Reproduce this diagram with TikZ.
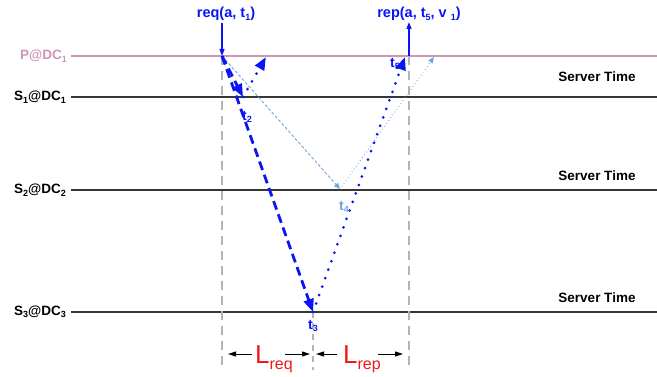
\documentclass[tikz,border=0pt]{standalone}
\usepackage{fontspec}
\setmainfont{Liberation Sans}
\usetikzlibrary{arrows.meta}
\definecolor{pinkc}{RGB}{204,150,180}
\definecolor{bluec}{RGB}{10,20,245}
\definecolor{lblue}{RGB}{110,165,220}
\definecolor{grayc}{RGB}{180,180,180}
\definecolor{linec}{RGB}{55,55,55}
\definecolor{redc}{RGB}{240,25,25}
\newcommand{\sbs}[1]{\raisebox{-0.35ex}{\fontsize{9}{9}\selectfont #1}}
\newcommand{\Lsub}[1]{\raisebox{-6pt}{\fontsize{16}{16}\selectfont #1}}
\begin{document}
\begin{tikzpicture}[x=1pt,y=-1pt,
  lbl/.style={font=\fontsize{13.5}{14}\selectfont\bfseries, inner sep=0pt},
  evl/.style={font=\fontsize{14}{14}\selectfont\bfseries, inner sep=0pt, text=bluec},
  timeline/.style={draw=linec, line width=1.4pt},
  guide/.style={draw=grayc, line width=2.6pt, dash pattern=on 9pt off 6pt},
  reqmsg/.style={draw=bluec, line width=2.8pt, dash pattern=on 9pt off 5pt, -{Triangle[length=13pt,width=10pt]}},
  repmsg/.style={draw=bluec, line width=3pt, line cap=round, dash pattern=on 0pt off 9pt, -{Triangle[length=13pt,width=10pt]}},
  lreq/.style={draw=lblue, line width=0.9pt, dash pattern=on 3pt off 2pt, -{Triangle[length=6pt,width=5pt]}},
  lrep/.style={draw=lblue, line width=1.2pt, line cap=round, dash pattern=on 0pt off 3.5pt, -{Triangle[length=6pt,width=5pt]}},
  thin/.style={draw=bluec, line width=1.2pt, -{Triangle[length=7pt,width=5pt]}},
  meas/.style={draw=black, line width=1pt, -{Triangle[length=8pt,width=5pt]}},
  Lbl/.style={text=redc, inner sep=0pt, font=\fontsize{26}{26}\selectfont}
]
\useasboundingbox (0,0) rectangle (657,377);

% timelines
\draw[draw=pinkc, line width=1.6pt] (71,56) -- (657,56);
\draw[timeline] (71,97) -- (657,97);
\draw[timeline] (71,190) -- (657,190);
\draw[timeline] (71,312) -- (657,312);

\node[lbl, text=pinkc, anchor=east] (p) at (67,56) {P@DC\sbs{1}};
\node[lbl, anchor=east] (s1) at (66,97) {S\sbs{1}@DC\sbs{1}};
\node[lbl, anchor=east] (s2) at (66,190) {S\sbs{2}@DC\sbs{2}};
\node[lbl, anchor=east] (s3) at (66,312) {S\sbs{3}@DC\sbs{3}};

\node[lbl] (st1) at (597,77) {Server Time};
\node[lbl] (st2) at (597,176) {Server Time};
\node[lbl] (st3) at (597,298) {Server Time};

% event points
\coordinate (e1) at (222,56);
\coordinate (e2) at (243,97);
\coordinate (e2b) at (266,57);
\coordinate (e4) at (340,189);
\coordinate (e4b) at (434,57);
\coordinate (e3) at (313,312);
\coordinate (e5) at (405,57);
\coordinate (r5) at (409,56);

% guides
\coordinate (g1b) at (222,366);
\coordinate (g2b) at (409,366);
\coordinate (g3b) at (313,370);
\draw[guide] (e1) -- (g1b);
\draw[guide] (r5) -- (g2b);
\draw[draw=grayc, line width=2.4pt, dash pattern=on 6pt off 5pt] (e3) -- (g3b);

% light blue path
\draw[lreq] (e1) -- (e4);
\draw[lrep] (e4) -- (e4b);

% blue messages
\draw[reqmsg] (e1) -- (e2);
\draw[repmsg] (e2) -- (e2b);
\draw[reqmsg] (e1) -- (e3);
\draw[repmsg] (e3) -- (e5);

% req / rep
\node[lbl, text=bluec, font=\fontsize{14.5}{15}\selectfont\bfseries] (req) at (226,14) {req(a, t\sbs{1})};
\node[lbl, text=bluec, font=\fontsize{14.5}{15}\selectfont\bfseries] (rep) at (419,14) {rep(a, t\sbs{5}, v \sbs{1})};
\coordinate (reqs) at (222,23);
\coordinate (repe) at (409,22);
\draw[thin] (reqs) -- (e1);
\draw[thin] (r5) -- (repe);

% event labels
\node[evl] (t2) at (247,117) {t\sbs{2}};
\node[evl, text=lblue] (t4) at (344,207) {t\sbs{4}};
\node[evl] (t5) at (395,64) {t\sbs{5}};
\node[evl] (t3) at (313,326) {t\sbs{3}};

% latency measures
\node[Lbl, anchor=base west] (lq) at (255,363) {L\Lsub{req}};
\node[Lbl, anchor=base west] (lp) at (343,363) {L\Lsub{rep}};
\coordinate (a1) at (252,354);
\coordinate (a1e) at (228,354);
\coordinate (a2) at (285,354);
\coordinate (a2e) at (310,354);
\coordinate (a3) at (337,354);
\coordinate (a3e) at (316,354);
\coordinate (a4) at (378,354);
\coordinate (a4e) at (403,354);
\draw[meas] (a1) -- (a1e);
\draw[meas] (a2) -- (a2e);
\draw[meas] (a3) -- (a3e);
\draw[meas] (a4) -- (a4e);
\end{tikzpicture}
\end{document}
